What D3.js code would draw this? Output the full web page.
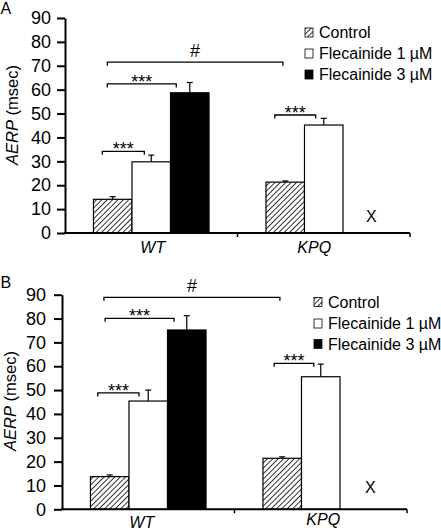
<!DOCTYPE html>
<html>
<head>
<meta charset="utf-8">
<script src="https://cdn.jsdelivr.net/npm/d3@7/dist/d3.min.js"></script>
<style>
  body { margin: 0; background: #fff; }
  svg { display: block; }
  text { font-family: "Liberation Sans", Arial, Helvetica, sans-serif; fill: #000; }
</style>
</head>
<body>
<script>
// ---------- DATA ----------
const groups = ["WT", "KPQ"];
const seriesNames = ["Control", "Flecainide 1 µM", "Flecainide 3 µM"];
const yTicks = [0, 10, 20, 30, 40, 50, 60, 70, 80, 90];
const yLabelItalic = "AERP";
const yLabelRest = " (msec)";
const missingLabel = "X";

// Panel A
const aControl = [14.1, 21.3];
const aControlErr = [1.1, 0.5];
const aFlec1 = [29.8, 45.2];
const aFlec1Err = [2.8, 2.8];
const aFlec3 = [58.7, null];
const aFlec3Err = [4.3, null];
// brackets: [group1, series1, frac1, group2, series2, frac2, level, label]
const aBrackets = [
  ["WT", 0, 0.23, "WT", 1, 0.32, 34.2, "***"],
  ["WT", 0, 0.36, "WT", 2, 0.15, 62.4, "***"],
  ["WT", 0, 0.36, "KPQ", 0, 0.44, 71.5, "#"],
  ["KPQ", 0, 0.23, "KPQ", 1, 0.29, 49.4, "***"]
];

// Panel B
const bControl = [13.7, 21.4];
const bControlErr = [0.7, 0.6];
const bFlec1 = [45.4, 55.6];
const bFlec1Err = [4.6, 5.3];
const bFlec3 = [75.2, null];
const bFlec3Err = [6.0, null];
const bBrackets = [
  ["WT", 0, 0.19, "WT", 1, 0.26, 48.8, "***"],
  ["WT", 0, 0.38, "WT", 2, 0.17, 80.1, "***"],
  ["WT", 0, 0.35, "KPQ", 0, 0.44, 88.9, "#"],
  ["KPQ", 0, 0.29, "KPQ", 1, 0.32, 61.2, "***"]
];

// ---------- LAYOUT ----------
const W = 441, H = 530;
const svg = d3.select("body").append("svg").attr("width", W).attr("height", H);
svg.append("rect").attr("width", W).attr("height", H).attr("fill", "#fff");

const defs = svg.append("defs");
const pat = defs.append("pattern")
  .attr("id", "hatch")
  .attr("patternUnits", "userSpaceOnUse")
  .attr("width", 3.8).attr("height", 3.8)
  .attr("patternTransform", "rotate(45)");
pat.append("rect").attr("width", 3.8).attr("height", 3.8).attr("fill", "#fff");
pat.append("line").attr("x1", 0).attr("y1", 0).attr("x2", 0).attr("y2", 3.8)
  .attr("stroke", "#000").attr("stroke-width", 1.6);

const fills = ["url(#hatch)", "#fff", "#000"];

const panels = [
  {
    letter: "A", letterY: 14,
    xRange: [65, 410], yRange: [233, 18],
    series: [[aControl, aControlErr], [aFlec1, aFlec1Err], [aFlec3, aFlec3Err]],
    brackets: aBrackets,
    tickPad: 6,
    yLabelX: 18, yLabelY: 115,
    catLabels: [{dx: 1.5, y: 253}, {dx: -9.5, y: 253}],
    missingDx: 9, missingY: 222,
    legendX: 305, legendY: [38, 59, 80]
  },
  {
    letter: "B", letterY: 288,
    xRange: [62, 407], yRange: [509.3, 294.7],
    series: [[bControl, bControlErr], [bFlec1, bFlec1Err], [bFlec3, bFlec3Err]],
    brackets: bBrackets,
    tickPad: 8,
    yLabelX: 16, yLabelY: 401,
    catLabels: [{dx: -6.5, y: 528}, {dx: 2.5, y: 525}],
    missingDx: 11, missingY: 493,
    legendX: 314, legendY: [307.5, 329, 349.5]
  }
];

panels.forEach(p => {
  const g = svg.append("g");
  const x = d3.scaleBand().domain(groups).range(p.xRange)
    .paddingInner(0.33).paddingOuter(0.165);
  const xs = d3.scaleBand().domain(d3.range(seriesNames.length)).range([0, x.bandwidth()]);
  const y = d3.scaleLinear().domain([0, 90]).range(p.yRange);

  // panel letter
  g.append("text").attr("x", 0.5).attr("y", p.letterY).attr("font-size", 16).text(p.letter);

  // bars
  p.series.forEach(([vals, errs], si) => {
    groups.forEach((grp, gi) => {
      const v = vals[gi];
      if (v == null) return;
      const bx = x(grp) + xs(si);
      g.append("rect")
        .attr("x", bx).attr("y", y(v))
        .attr("width", xs.bandwidth()).attr("height", y(0) - y(v))
        .attr("fill", fills[si]).attr("stroke", "#000").attr("stroke-width", 1.2);
      const e = errs[gi];
      const cx = bx + xs.bandwidth() / 2;
      g.append("line").attr("x1", cx).attr("x2", cx).attr("y1", y(v)).attr("y2", y(v + e))
        .attr("stroke", "#000").attr("stroke-width", 1.2);
      g.append("line").attr("x1", cx - 3).attr("x2", cx + 3).attr("y1", y(v + e)).attr("y2", y(v + e))
        .attr("stroke", "#000").attr("stroke-width", 1.2);
    });
  });

  // missing marker
  g.append("text")
    .attr("x", x("KPQ") + xs(2) + xs.bandwidth() / 2 + p.missingDx)
    .attr("y", p.missingY)
    .attr("text-anchor", "middle").attr("font-size", 16).text(missingLabel);

  // y axis
  const ya = g.append("g").attr("transform", `translate(${p.xRange[0]},0)`)
    .call(d3.axisLeft(y).tickValues(yTicks).tickSize(8).tickSizeOuter(0).tickPadding(p.tickPad));
  ya.select(".domain").attr("stroke-width", 2);
  ya.selectAll(".tick line").attr("stroke-width", 2);
  ya.selectAll(".tick text").attr("font-size", 18)
    .style("font-family", "'Liberation Sans', Arial, sans-serif");

  // x axis
  g.append("line").attr("x1", p.xRange[0] - 1).attr("x2", p.xRange[1])
    .attr("y1", y(0)).attr("y2", y(0)).attr("stroke", "#000").attr("stroke-width", 2);
  groups.forEach((grp, gi) => {
    const tx = p.xRange[0] + (gi + 1) * x.step();
    g.append("line").attr("x1", tx).attr("x2", tx).attr("y1", y(0)).attr("y2", y(0) + 4)
      .attr("stroke", "#000").attr("stroke-width", 1.5);
    g.append("text")
      .attr("x", x(grp) + x.bandwidth() / 2 + p.catLabels[gi].dx)
      .attr("y", p.catLabels[gi].y)
      .attr("text-anchor", "middle").attr("font-size", 16).attr("font-style", "italic")
      .text(grp);
  });

  // y label
  const yl = g.append("text")
    .attr("transform", `translate(${p.yLabelX},${p.yLabelY}) rotate(-90)`)
    .attr("text-anchor", "middle").attr("font-size", 16.5);
  yl.append("tspan").attr("font-style", "italic").text(yLabelItalic);
  yl.append("tspan").text(yLabelRest);

  // brackets
  p.brackets.forEach(([g1, s1, f1, g2, s2, f2, lvl, lab]) => {
    const x1 = x(g1) + xs(s1) + f1 * xs.bandwidth();
    const x2 = x(g2) + xs(s2) + f2 * xs.bandwidth();
    const yy = y(lvl);
    g.append("path")
      .attr("d", `M${x1},${yy + 3.5}V${yy}H${x2}V${yy + 3.5}`)
      .attr("fill", "none").attr("stroke", "#000").attr("stroke-width", 1.3);
    g.append("text")
      .attr("x", (x1 + x2) / 2)
      .attr("y", lab === "#" ? yy - 5 : yy + 4)
      .attr("text-anchor", "middle")
      .attr("font-size", 18)
      .text(lab);
  });

  // legend
  seriesNames.forEach((name, si) => {
    const by = p.legendY[si];
    g.append("rect").attr("x", p.legendX).attr("y", by - 10)
      .attr("width", 8).attr("height", 9)
      .attr("fill", fills[si]).attr("stroke", "#000").attr("stroke-width", 0.8);
    g.append("text").attr("x", p.legendX + 14).attr("y", by)
      .attr("font-size", 16).text(name);
  });
});
</script>
</body>
</html>
